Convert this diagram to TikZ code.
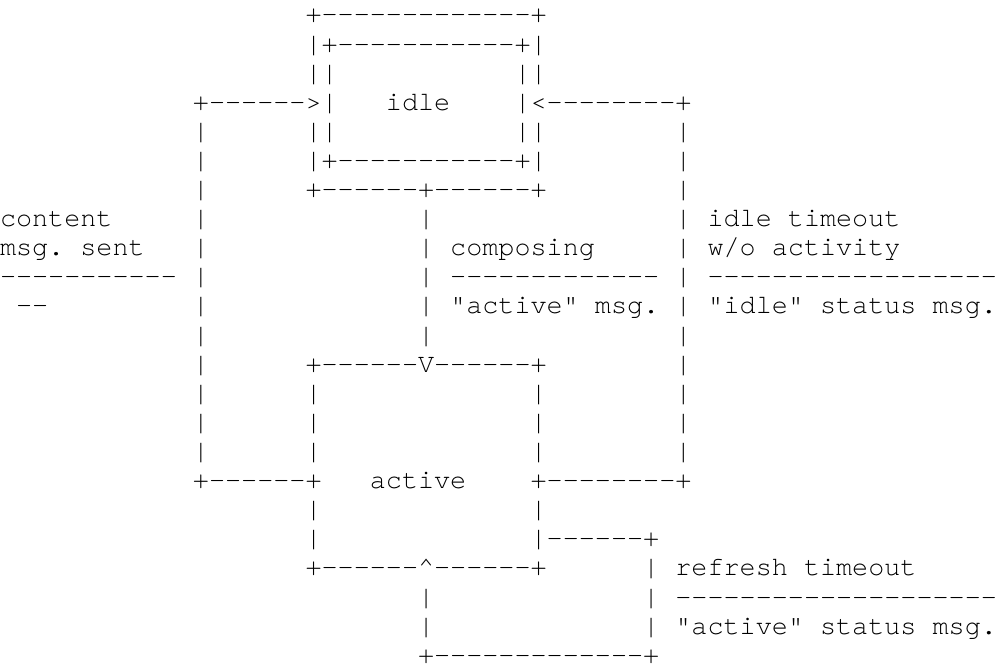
\documentclass[tikz,border=0pt]{standalone}
\usepackage{fontspec}
\setmonofont{texgyrecursor-regular.otf}

\tikzset{
  ascii/.style = {anchor = base west, inner sep = 0pt, outer sep = 0pt,
    font = \ttfamily\fontsize{26.8}{29}\selectfont},
}

\begin{document}
\begin{tikzpicture}[x = 16.08pt, y = -29.1pt]
        \useasboundingbox (0pt, 23pt) rectangle (999pt, -645pt);

        % idle box
        \node[ascii] (r1) at (19, 0) {+-------------+};
        \node[ascii] (r2) at (19, 1) {|+-----------+|};
        \node[ascii] (r3a) at (19, 2) {||};
        \node[ascii] (r3b) at (32, 2) {||};
        \node[ascii] (r4a) at (12, 3) {+------>|};
        \node[ascii] (idle) at (24, 3) {idle};
        \node[ascii] (r4c) at (32, 3) {|<--------+};
        \node[ascii] (r5a) at (19, 4) {||};
        \node[ascii] (r5b) at (32, 4) {||};
        \node[ascii] (r6) at (19, 5) {|+-----------+|};
        \node[ascii] (r7) at (19, 6) {+------+------+};

        % side and middle bars
        \foreach \r in {4,...,15} \node[ascii] (lbar\r) at (12, \r) {|};
        \foreach \r in {4,...,15} \node[ascii] (rbar\r) at (42, \r) {|};
        \foreach \r in {7,...,11} \node[ascii] (mbar\r) at (26, \r) {|};

        % labels
        \node[ascii] (sent1) at (0, 7) {content};
        \node[ascii] (sent2) at (0, 8) {msg. sent};
        \node[ascii] (sent3) at (0, 9) {-----------};
        \node[ascii] (sent4) at (1, 10) {--};
        \node[ascii] (comp1) at (28, 8) {composing};
        \node[ascii] (comp2) at (28, 9) {-------------};
        \node[ascii] (comp3) at (28, 10) {"active" msg.};
        \node[ascii] (tout1) at (44, 7) {idle timeout};
        \node[ascii] (tout2) at (44, 8) {w/o activity};
        \node[ascii] (tout3) at (44, 9) {------------------};
        \node[ascii] (tout4) at (44, 10) {"idle" status msg.};

        % active box
        \node[ascii] (r13) at (19, 12) {+------V------+};
        \foreach \r in {13, 14, 15, 17, 18} \node[ascii] (al\r) at (19, \r) {|};
        \foreach \r in {13, 14, 15, 17} \node[ascii] (ar\r) at (33, \r) {|};
        \node[ascii] (r17a) at (12, 16) {+------+};
        \node[ascii] (active) at (23, 16) {active};
        \node[ascii] (r17c) at (33, 16) {+--------+};
        \node[ascii] (r19) at (33, 18) {|------+};
        \node[ascii] (r20) at (19, 19) {+------\textasciicircum------+};

        % refresh loop
        \foreach \r in {19, 20, 21} \node[ascii] (fbar\r) at (40, \r) {|};
        \foreach \r in {20, 21} \node[ascii] (gbar\r) at (26, \r) {|};
        \node[ascii] (ref1) at (42, 19) {refresh timeout};
        \node[ascii] (ref2) at (42, 20) {--------------------};
        \node[ascii] (ref3) at (42, 21) {"active" status msg.};
        \node[ascii] (r23) at (26, 22) {+-------------+};
      \end{tikzpicture}
\end{document}
